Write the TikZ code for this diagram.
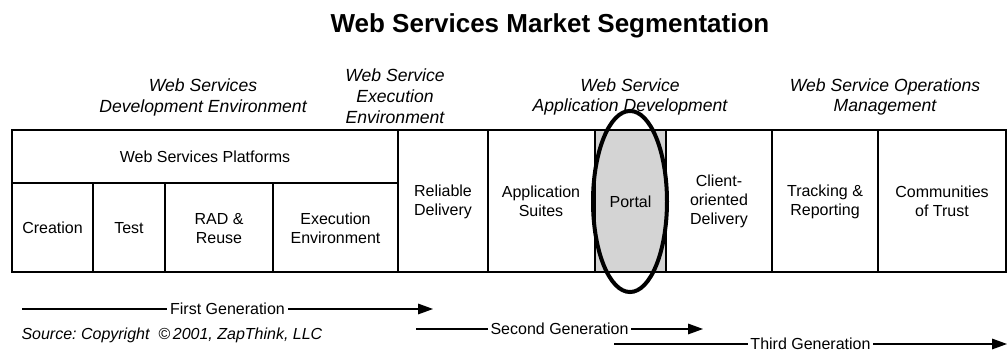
\documentclass[tikz,border=0pt]{standalone}
\usepackage{fontspec}
\setmainfont{Liberation Sans}
\usetikzlibrary{arrows.meta}

\tikzset{every picture/.style={line width=0.75pt}}
\tikzset{
  celltxt/.style={inner sep=0.75pt, align=center, font=\fontsize{12}{14.25}\selectfont},
  hdrtxt/.style={inner sep=0.75pt, align=center, font=\fontsize{13.2}{15.6}\selectfont\itshape},
  gridline/.style={line width=1.1pt},
  outerline/.style={line width=1.6pt},
  genline/.style={line width=0.8pt, -{Triangle[length=11.25pt,width=8pt]}},
  genlbl/.style={fill=white, inner sep=2pt, font=\fontsize{12}{14.25}\selectfont}
}

\begin{document}
\begin{tikzpicture}[x=0.75pt,y=0.75pt,yscale=-1,xscale=1]
\useasboundingbox (0,0) rectangle (1008,352);

% Title
\node [anchor=base, inner sep=0pt, font=\fontsize{19.5}{23}\selectfont\bfseries] (title) at (550,33) {Web Services Market Segmentation};

% Segment headers
\node [hdrtxt] (devhdr) at (203,97.5) {Web Services\\Development Environment};
\node [hdrtxt] (exechdr) at (395,96.5) {Web Service\\Execution\\Environment};
\node [hdrtxt] (apphdr) at (630,97) {Web Service\\Application Development};
\node [hdrtxt] (opshdr) at (885,97) {Web Service Operations\\Management};

%Shape: Portal cell
\fill [color={rgb, 255:red, 212; green, 212; blue, 212 }] (595,130) rectangle (666,272);

%Straight Lines: grid
\draw [gridline] (12,183) -- (398,183);
\draw [gridline] (93,183) -- (93,272);
\draw [gridline] (165,183) -- (165,272);
\draw [gridline] (273,183) -- (273,272);
\draw [outerline] (398,130) -- (398,272);
\draw [outerline] (488,130) -- (488,272);
\draw [gridline] (595,130) -- (595,272);
\draw [gridline] (666,130) -- (666,272);
\draw [outerline] (772,130) -- (772,272);
\draw [gridline] (878,130) -- (878,272);
%Shape: Rectangle
\draw [outerline] (12,130) rectangle (1006,272);

% Text Node
\node [celltxt] (platforms) at (205,156.5) {Web Services Platforms};
\node [celltxt] (creation) at (52.5,228) {Creation};
\node [celltxt] (test) at (129,228) {Test};
\node [celltxt] (rad) at (219,228.5) {RAD \&\\Reuse};
\node [celltxt] (execenv) at (335.5,228.5) {Execution\\Environment};
\node [celltxt] (reliable) at (443,201.5) {Reliable\\Delivery};
\node [celltxt] (suites) at (541,201.5) {Application\\Suites};
\node [celltxt] (portal) at (630.5,201.5) {Portal};
\node [celltxt] (client) at (719,201.5) {Client-\\oriented\\Delivery};
\node [celltxt] (tracking) at (825,201.5) {Tracking \&\\Reporting};
\node [celltxt] (trust) at (942,201.5) {Communities\\of Trust};

%Shape: Ellipse
\draw [line width=3pt] (630,201.5) ellipse [x radius=27.75pt, y radius=67.9pt];

%Straight Lines: generations
\coordinate (g1s) at (22,309);
\coordinate (g1e) at (433,309);
\coordinate (g2s) at (416,329);
\coordinate (g2e) at (703,329);
\coordinate (g3s) at (614,344);
\coordinate (g3e) at (1007,344);
\draw [genline] (g1s) -- node [genlbl] (gen1) {First Generation} (g1e);
\draw [genline] (g2s) -- node [genlbl] (gen2) {Second Generation} (g2e);
\draw [genline] (g3s) -- node [genlbl] (gen3) {Third Generation} (g3e);

% Text Node
\node [anchor=west, inner sep=0pt, font=\fontsize{12}{14.25}\selectfont\itshape\frenchspacing] (source) at (21,335) {Source: Copyright~~\copyright\,2001, ZapThink, LLC};

\end{tikzpicture}
\end{document}
